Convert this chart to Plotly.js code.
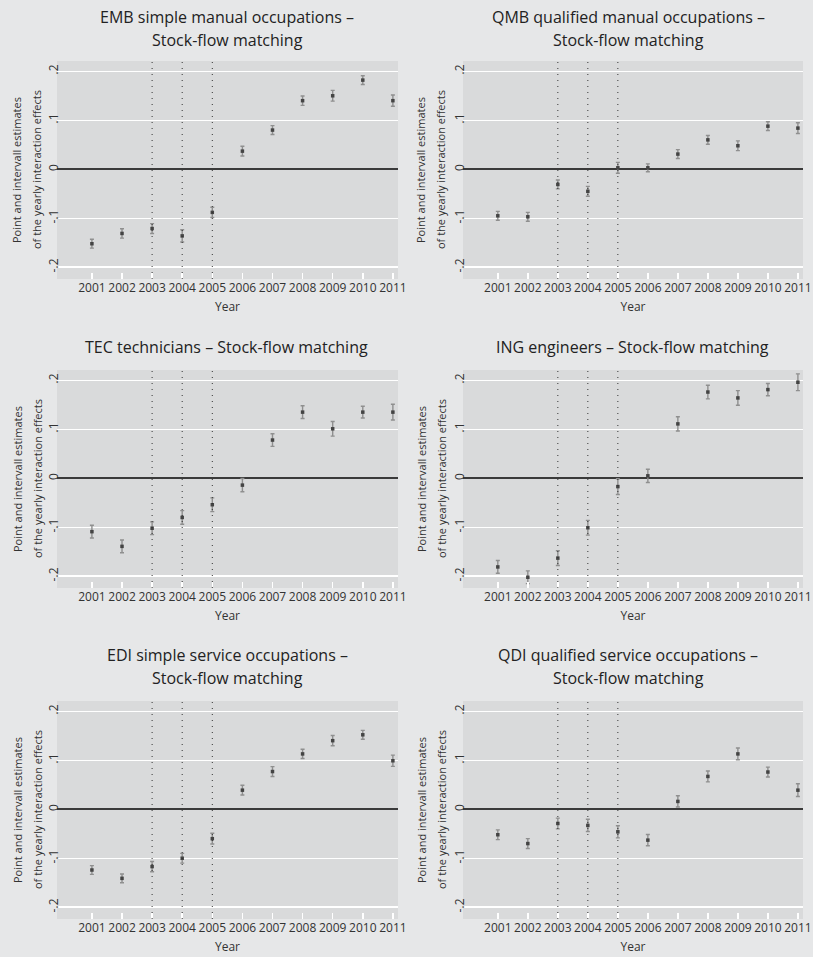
<!DOCTYPE html>
<html>
<head>
<meta charset="utf-8">
<script src="https://cdn.plot.ly/plotly-3.0.1.min.js"></script>
<style>
html,body{margin:0;padding:0;background:#e6e7e8;}
#chart{width:813px;height:957px;}
</style>
</head>
<body>
<div id="chart"></div>
<script>
// ---------------- data ----------------
const years = [2001, 2002, 2003, 2004, 2005, 2006, 2007, 2008, 2009, 2010, 2011];
const yearLabels = ["2001","2002","2003","2004","2005","2006","2007","2008","2009","2010","2011"];
const refYears = [2003, 2004, 2005];
const yTickVals = [-0.2, -0.1, 0, 0.1, 0.2];
const yTickText = ["-.2", "-.1", "0", ".1", ".2"];

const panelTitles = [
  ["EMB simple manual occupations \u2013", "Stock-flow matching"],
  ["QMB qualified manual occupations \u2013", "Stock-flow matching"],
  ["TEC technicians \u2013 Stock-flow matching"],
  ["ING engineers \u2013 Stock-flow matching"],
  ["EDI simple service occupations \u2013", "Stock-flow matching"],
  ["QDI qualified service occupations \u2013", "Stock-flow matching"]
];
const xTitle = "Year";
const yTitleLines = ["Point and intervall estimates", "of the yearly interaction effects"];

const embEst = [-0.152, -0.131, -0.121, -0.136, -0.088, 0.037, 0.080, 0.140, 0.150, 0.182, 0.140];
const embErr = [0.009, 0.0095, 0.010, 0.0125, 0.0105, 0.010, 0.009, 0.0095, 0.011, 0.009, 0.0115];

const qmbEst = [-0.095, -0.097, -0.031, -0.045, 0.003, 0.003, 0.031, 0.060, 0.048, 0.088, 0.084];
const qmbErr = [0.009, 0.009, 0.009, 0.010, 0.011, 0.008, 0.009, 0.009, 0.010, 0.009, 0.011];

const tecEst = [-0.109, -0.139, -0.102, -0.080, -0.054, -0.014, 0.078, 0.135, 0.101, 0.135, 0.135];
const tecErr = [0.013, 0.013, 0.013, 0.014, 0.014, 0.0135, 0.013, 0.013, 0.015, 0.012, 0.016];

const ingEst = [-0.181, -0.202, -0.163, -0.101, -0.017, 0.005, 0.111, 0.176, 0.164, 0.181, 0.196];
const ingErr = [0.013, 0.013, 0.015, 0.015, 0.016, 0.0135, 0.0145, 0.014, 0.015, 0.0125, 0.017];

const ediEst = [-0.124, -0.141, -0.117, -0.100, -0.060, 0.039, 0.077, 0.113, 0.140, 0.152, 0.099];
const ediErr = [0.009, 0.009, 0.0105, 0.010, 0.011, 0.010, 0.010, 0.0095, 0.0105, 0.009, 0.0115];

const qdiEst = [-0.052, -0.070, -0.029, -0.033, -0.046, -0.063, 0.016, 0.067, 0.113, 0.076, 0.039];
const qdiErr = [0.010, 0.010, 0.011, 0.0125, 0.0125, 0.0115, 0.0115, 0.011, 0.012, 0.010, 0.013];

const estimates = [embEst, qmbEst, tecEst, ingEst, ediEst, qdiEst];
const errors = [embErr, qmbErr, tecErr, ingErr, ediErr, qdiErr];

// ---------------- layout helpers ----------------
const W = 813, H = 957;
const px2x = p => p / W;
const py2y = p => 1 - p / H;
const colPx = [[57, 398], [463, 803]];
const rowPx = [[61, 279], [370, 588], [701, 919]];
const titleLinesPx = [[16.7, 40], [347], [655, 678]];
const titleCenterPx = [[227, 628], [226.5, 632], [227, 628]];
const yTitlePx = [[17, 37], [421, 441]];

const FONT = '"Open Sans", "Noto Sans", sans-serif';
const traces = [];
const layout = {
  width: W, height: H,
  margin: {l: 0, r: 0, t: 0, b: 0},
  paper_bgcolor: '#e6e7e8',
  plot_bgcolor: '#d9dadb',
  showlegend: false,
  font: {family: FONT, color: '#333', size: 12},
  shapes: [],
  annotations: []
};

for (let i = 0; i < 6; i++) {
  const row = Math.floor(i / 2), col = i % 2;
  const n = i + 1;
  const xa = n === 1 ? 'x' : 'x' + n;
  const ya = n === 1 ? 'y' : 'y' + n;
  traces.push({
    type: 'scatter', mode: 'markers',
    x: years, y: estimates[i],
    xaxis: xa, yaxis: ya,
    marker: {size: 3.5, color: '#444', symbol: 'square'},
    error_y: {type: 'data', array: errors[i], visible: true, color: '#8f8f8f', thickness: 1.4, width: 2}
  });
  layout['xaxis' + (n === 1 ? '' : n)] = {
    domain: [px2x(colPx[col][0]), px2x(colPx[col][1])],
    anchor: ya,
    range: [1999.84, 2011.17],
    tickmode: 'array', tickvals: years, ticktext: yearLabels,
    tickangle: 0,
    ticks: 'inside', ticklen: 6, tickwidth: 1.5, tickcolor: '#ffffff',
    ticklabeloverflow: 'allow',
    showgrid: false, zeroline: false, showline: false,
    tickfont: {size: 12, color: '#333'},
    title: {text: xTitle, font: {size: 12, color: '#333'}, standoff: 7},
    automargin: false, fixedrange: true
  };
  layout['yaxis' + (n === 1 ? '' : n)] = {
    domain: [py2y(rowPx[row][1]), py2y(rowPx[row][0])],
    anchor: xa,
    range: [-0.224, 0.221],
    tickmode: 'array', tickvals: yTickVals, ticktext: yTickText,
    tickangle: -90,
    ticks: '', ticklabelstandoff: -4,
    showgrid: true, gridcolor: '#ffffff', gridwidth: 1.5,
    zeroline: true, zerolinecolor: '#3a3a3a', zerolinewidth: 1.8,
    showline: false,
    tickfont: {size: 12, color: '#333'},
    automargin: false, fixedrange: true
  };
  refYears.forEach(yr => {
    layout.shapes.push({
      type: 'line', xref: xa, yref: ya + ' domain',
      x0: yr, x1: yr, y0: 0, y1: 1,
      line: {color: '#333', width: 1, dash: '1px,5px'},
      layer: 'above'
    });
  });
  panelTitles[i].forEach((t, k) => {
    layout.annotations.push({
      text: t, xref: 'paper', yref: 'paper',
      x: px2x(titleCenterPx[row][col]), y: py2y(titleLinesPx[row][k]),
      xanchor: 'center', yanchor: 'middle', showarrow: false,
      font: {size: 16, color: '#222'}
    });
  });
  const midPx = (rowPx[row][0] + rowPx[row][1]) / 2;
  yTitleLines.forEach((t, k) => {
    layout.annotations.push({
      text: t, xref: 'paper', yref: 'paper',
      x: px2x(yTitlePx[col][k]), y: py2y(midPx),
      xanchor: 'center', yanchor: 'middle', showarrow: false,
      textangle: -90,
      font: {size: 11, color: '#333'}
    });
  });
}

Plotly.newPlot('chart', traces, layout, {displayModeBar: false, staticPlot: true});
</script>
</body>
</html>
